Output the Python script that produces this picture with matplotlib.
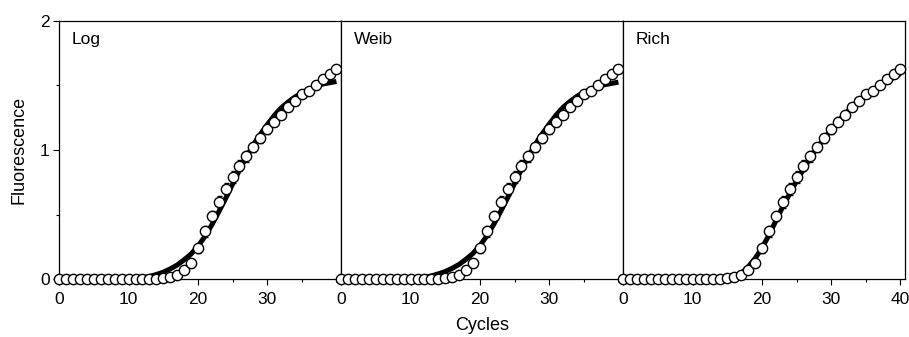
import numpy as np
import matplotlib
matplotlib.use("Agg")
import matplotlib.pyplot as plt
from matplotlib.ticker import MultipleLocator

plt.rcParams["font.family"] = ["Liberation Sans", "DejaVu Sans"]

cycles = np.arange(0, 41)

# measured fluorescence (same data in every panel)
fluor = [0.0, 0.0, 0.0, 0.0, 0.0, 0.0, 0.0, 0.0, 0.0, 0.0,
         0.0, 0.0, 0.0, 0.0, 0.0, 0.013, 0.015, 0.032, 0.07, 0.125,
         0.24, 0.37, 0.49, 0.60, 0.70, 0.79, 0.88, 0.95, 1.02, 1.09,
         1.16, 1.22, 1.27, 1.33, 1.38, 1.43, 1.46, 1.50, 1.55, 1.59,
         1.63]
fluor_err = [0.01] * 15 + [0.015, 0.015, 0.02, 0.025, 0.03,
                           0.035, 0.04, 0.04, 0.045, 0.045, 0.045, 0.04, 0.04, 0.035, 0.035,
                           0.035, 0.035, 0.03, 0.03, 0.03, 0.03, 0.03, 0.03, 0.03, 0.03,
                           0.03]

fit_log = [0.0, 0.0, 0.0, 0.0, 0.0, 0.0, 0.0, 0.0, 0.0, 0.0,
           0.002, 0.005, 0.012, 0.022, 0.037, 0.055, 0.08, 0.11, 0.15, 0.195,
           0.255, 0.33, 0.42, 0.52, 0.625, 0.735, 0.845, 0.945, 1.04, 1.12,
           1.195, 1.265, 1.325, 1.37, 1.41, 1.44, 1.47, 1.49, 1.51, 1.52,
           1.53]
fit_weib = [0.0, 0.0, 0.0, 0.0, 0.0, 0.0, 0.0, 0.0, 0.0, 0.0,
            0.003, 0.007, 0.015, 0.026, 0.042, 0.06, 0.085, 0.115, 0.155, 0.2,
            0.26, 0.335, 0.425, 0.525, 0.63, 0.74, 0.85, 0.95, 1.045, 1.125,
            1.2, 1.27, 1.33, 1.375, 1.415, 1.445, 1.47, 1.49, 1.505, 1.515,
            1.525]
fit_rich = [0.0, 0.0, 0.0, 0.0, 0.0, 0.0, 0.0, 0.0, 0.0, 0.0,
            0.0, 0.0, 0.0, 0.0, 0.0, 0.003, 0.015, 0.045, 0.095, 0.16,
            0.24, 0.34, 0.45, 0.56, 0.66, 0.76, 0.85, 0.94, 1.02, 1.09,
            1.16, 1.22, 1.28, 1.33, 1.38, 1.42, 1.46, 1.50, 1.53, 1.56,
            1.59]

panel_names = ["Log", "Weib", "Rich"]
panel_fits = [fit_log, fit_weib, fit_rich]

fig = plt.figure(figsize=(9.09, 3.37), dpi=100)

left = 59.3 / 909
width = 282 / 909
bottom = 1 - 279.3 / 337
height = (279.3 - 20.7) / 337

for i, (name, fit) in enumerate(zip(panel_names, panel_fits)):
    ax = fig.add_axes([left + i * width, bottom, width, height])
    ax.plot(cycles, fit, color="black", linewidth=3.6, solid_capstyle="butt", zorder=2)
    ax.errorbar(cycles, fluor, yerr=fluor_err, fmt="o", color="black",
                markerfacecolor="white", markeredgecolor="black",
                markersize=7.4, markeredgewidth=1.0, elinewidth=0.8,
                capsize=1.8, capthick=0.8, clip_on=False, zorder=3)

    ax.set_xlim(0, 40.7)
    ax.set_ylim(0, 2)
    ax.xaxis.set_major_locator(MultipleLocator(10))
    ax.xaxis.set_minor_locator(MultipleLocator(5))
    ax.tick_params(axis="x", which="major", direction="out", length=4,
                   width=0.8, labelsize=12.5, pad=5)
    ax.tick_params(axis="y", which="major", direction="out", length=4,
                   width=0.8, labelsize=12.5, pad=3)
    ax.tick_params(axis="both", which="minor", direction="out", length=2, width=0.8)

    if i == 0:
        ax.yaxis.set_major_locator(MultipleLocator(1))
        ax.yaxis.set_minor_locator(MultipleLocator(0.5))
        ax.set_ylabel("Fluorescence", fontsize=13, labelpad=9)
    else:
        ax.set_yticks([])
        ax.yaxis.set_minor_locator(plt.NullLocator())

    if i < 2:
        ax.set_xticks([0, 10, 20, 30])
    else:
        ax.set_xticks([0, 10, 20, 30, 40])

    if i == 1:
        ax.set_xlabel("Cycles", fontsize=13, labelpad=7)

    for sp in ax.spines.values():
        sp.set_linewidth(0.9)

    ax.text(0.045, 0.955, name, transform=ax.transAxes, fontsize=12.5,
            va="top", ha="left")

fig.savefig("out.png", dpi=100)
